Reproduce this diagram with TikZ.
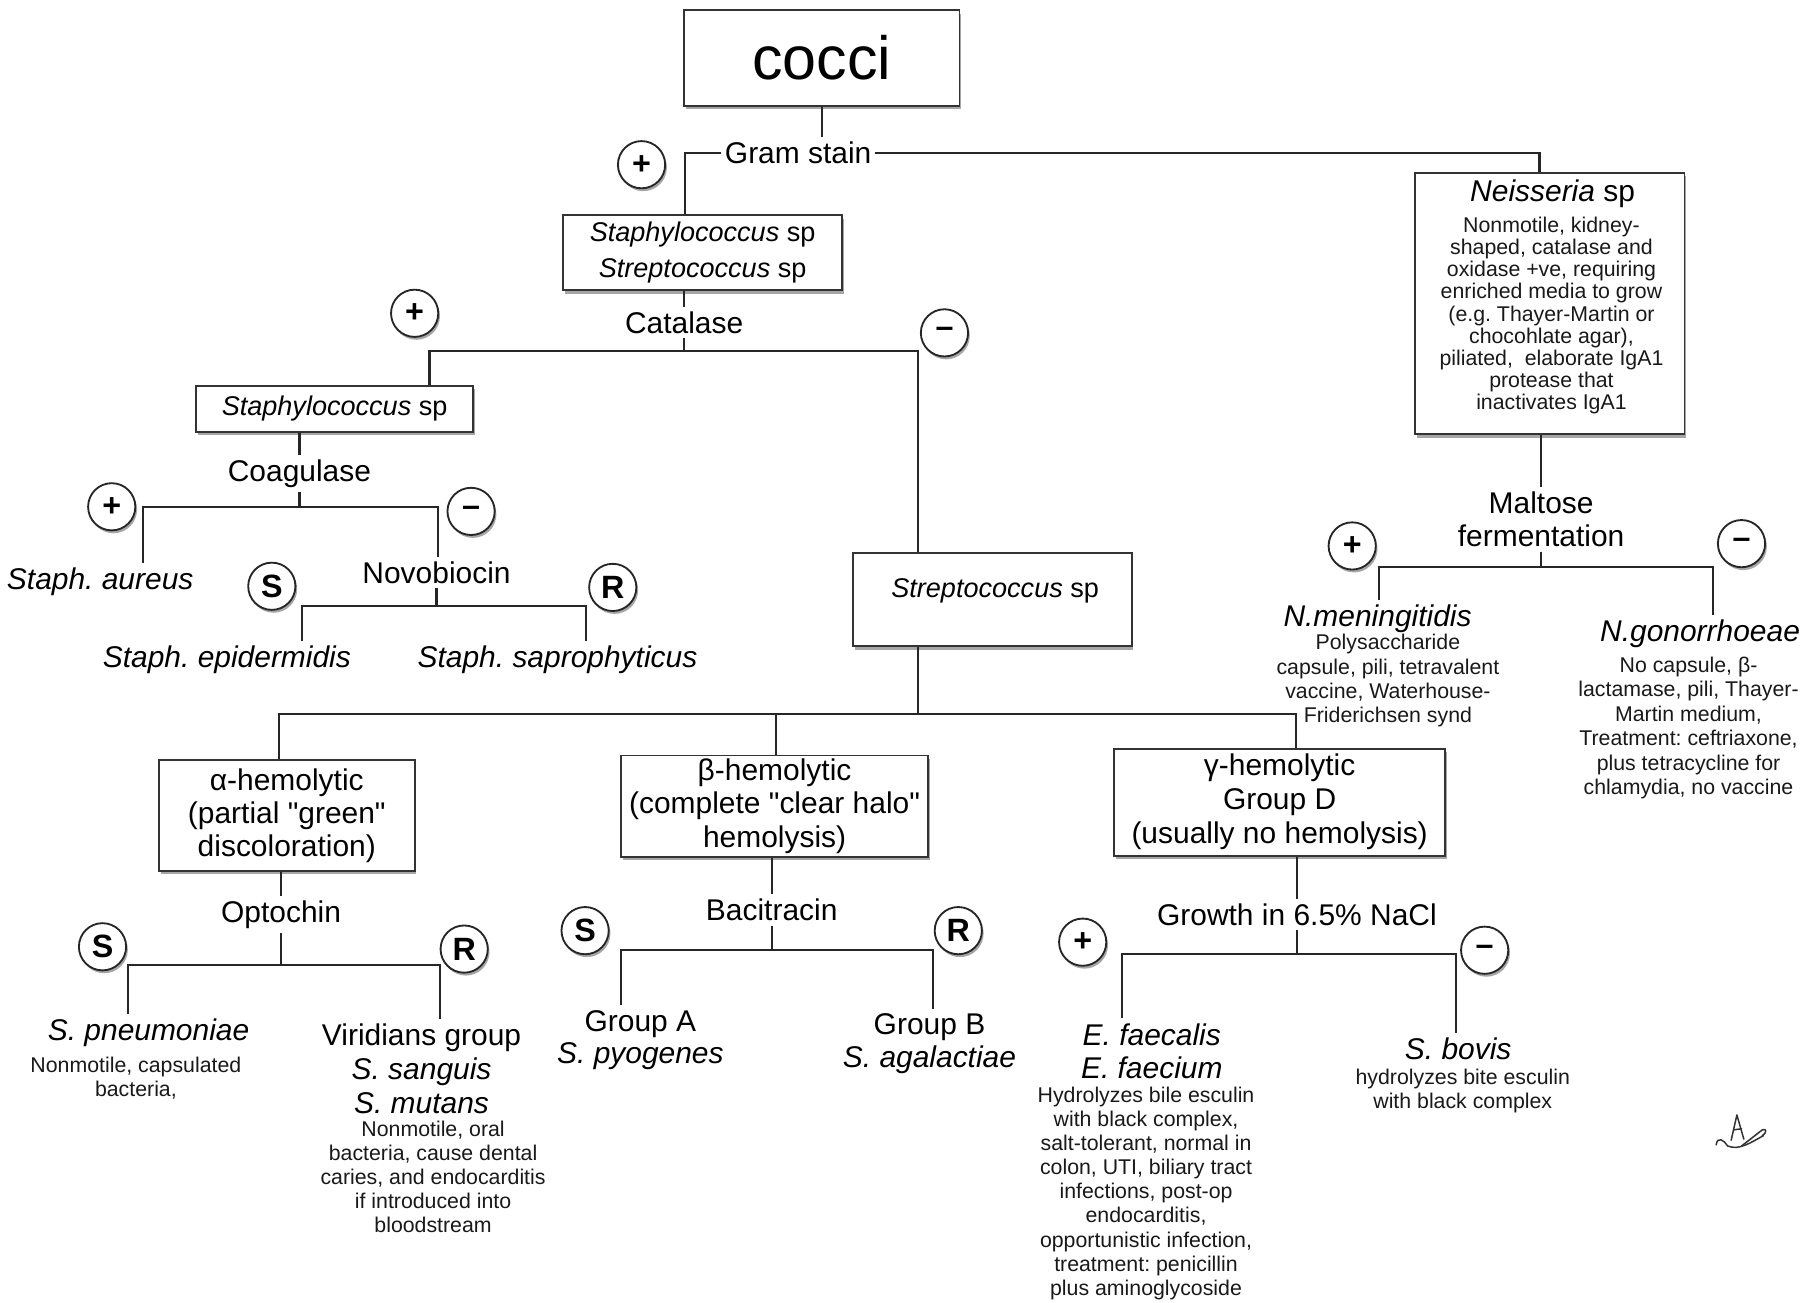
\documentclass[tikz,border=0pt]{standalone}
\usepackage{fontspec}
\setmainfont{Liberation Sans}
\usetikzlibrary{shadows}
\frenchspacing
\newcommand{\qq}{\textquotedbl}
\begin{document}
\begin{tikzpicture}[x=1pt,y=-1pt,
  conn/.style={line width=2pt, draw=black!85},
  box/.style={draw=black!80, line width=1.6pt, fill=white, inner sep=2pt, align=center,
    drop shadow={shadow xshift=1.5pt, shadow yshift=-3pt, opacity=0.35, fill=black}},
  lab/.style={font=\fontsize{26}{28.5}\selectfont, align=center, inner xsep=3pt, inner ysep=4pt, text=black},
  note/.style={font=\fontsize{18.5}{20.8}\selectfont, align=center, inner sep=1pt, text=black!90},
  sgn/.style={circle, draw=black!85, line width=1.6pt, fill=white, minimum size=41pt, inner sep=0pt,
    font=\fontsize{28}{28}\selectfont\bfseries,
    drop shadow={shadow xshift=1.5pt, shadow yshift=-2.5pt, opacity=0.35, fill=black}},
]
\useasboundingbox[fill=white] (0,0) rectangle (1568,1131);

% ---------- boxes ----------
\node[box, minimum width=239pt, minimum height=83pt, font=\fontsize{53}{60}\selectfont] (cocci) at (713.5,50.5) {cocci};
\node[box, minimum width=242pt, minimum height=65pt, font=\fontsize{23.5}{31}\selectfont] (ss) at (610,219.5)
  {\textit{Staphylococcus} sp\\\textit{Streptococcus} sp};
\node[box, minimum width=241pt, minimum height=40pt, font=\fontsize{23.5}{28}\selectfont] (staph) at (290.5,355)
  {\textit{Staphylococcus} sp};
\node[box, minimum width=242pt, minimum height=81pt] (strep) at (861.5,520.5) {};
\node[font=\fontsize{23.5}{28}\selectfont, inner sep=1pt] (streptxt) at (864,513) {\textit{Streptococcus} sp};
\node[box, minimum width=222pt, minimum height=96pt, font=\fontsize{26}{28.5}\selectfont] (alpha) at (249,708)
  {α-hemolytic\\(partial \qq green\qq\\discoloration)};
\node[box, minimum width=267pt, minimum height=88pt, font=\fontsize{26}{29}\selectfont] (beta) at (672.5,700)
  {β-hemolytic\\(complete \qq clear halo\qq\\hemolysis)};
\node[box, minimum width=287pt, minimum height=93pt, font=\fontsize{26}{29.5}\selectfont] (gamma) at (1111,696.5)
  {γ-hemolytic\\Group D\\(usually no hemolysis)};
\node[box, minimum width=234pt, minimum height=227pt] (neis) at (1345.5,263.5) {};
\node[font=\fontsize{26}{28}\selectfont, inner sep=1pt] (neistitle) at (1348,168) {\textit{Neisseria} sp};
\node[note, font=\fontsize{18.5}{19.2}\selectfont] (neisbody) at (1347,274)
  {Nonmotile, kidney-\\shaped, catalase and\\oxidase +ve, requiring\\enriched media to grow\\(e.g. Thayer-Martin or\\chocohlate agar),\\piliated,\ \ elaborate IgA1\\protease that\\inactivates IgA1};

% ---------- test labels ----------
\node[lab] (gram) at (693,133) {Gram stain};
\node[lab] (cat) at (594,280) {Catalase};
\node[lab] (coag) at (260,411) {Coagulase};
\node[lab] (novo) at (379,497) {Novobiocin};
\node[lab] (opt) at (244,794) {Optochin};
\node[lab] (bac) at (670,790) {Bacitracin};
\node[lab] (growth) at (1126,794) {Growth in 6.5\% NaCl};
\node[lab] (malt) at (1338,451) {Maltose\\fermentation};

% ---------- results ----------
\node[lab] (aureus) at (87,505) {\textit{Staph. aureus}};
\node[lab] (epi) at (197,573) {\textit{Staph. epidermidis}};
\node[lab] (sapro) at (484,573) {\textit{Staph. saprophyticus}};
\node[lab] (spn) at (129,897) {\textit{S. pneumoniae}};
\node[note] (spnbody) at (118,936) {Nonmotile, capsulated\\bacteria,};
\node[lab, font=\fontsize{26}{29.5}\selectfont] (vir) at (366,928) {Viridians group\\\textit{S. sanguis}\\\textit{S. mutans}};
\node[note] (virbody) at (376,1022) {Nonmotile, oral\\bacteria, cause dental\\caries, and endocarditis\\if introduced into\\bloodstream};
\node[lab] (grA) at (556,903) {Group A\\\textit{S. pyogenes}};
\node[lab] (grB) at (807,906) {Group B\\\textit{S. agalactiae}};
\node[lab, font=\fontsize{26}{29}\selectfont, inner ysep=0.5pt] (efae) at (1000,913) {\textit{E. faecalis}\\\textit{E. faecium}};
\node[note, font=\fontsize{18.5}{21}\selectfont, inner sep=0.5pt] (efaebody) at (995,1036)
  {Hydrolyzes bile esculin\\with black complex,\\salt-tolerant, normal in\\colon, UTI, biliary tract\\infections, post-op\\endocarditis,\\opportunistic infection,\\treatment: penicillin\\plus aminoglycoside};
\node[lab] (bovis) at (1266,911) {\textit{S. bovis}};
\node[note] (bovisbody) at (1270,947) {hydrolyzes bite esculin\\with black complex};
\node[lab] (nmen) at (1196,537) {\textit{N.meningitidis}};
\node[note, font=\fontsize{18.5}{21}\selectfont] (nmenbody) at (1205,591) {Polysaccharide\\capsule, pili, tetravalent\\vaccine, Waterhouse-\\Friderichsen synd};
\node[lab] (ngon) at (1476,550) {\textit{N.gonorrhoeae}};
\node[note, font=\fontsize{18.5}{21.2}\selectfont] (ngonbody) at (1466,632) {No capsule, β-\\lactamase, pili, Thayer-\\Martin medium,\\Treatment: ceftriaxone,\\plus tetracycline for\\chlamydia, no vaccine};

% ---------- junction coordinates ----------
\coordinate (catL) at (373,305);   \coordinate (catR) at (797,305);
\coordinate (coagL) at (124,440);  \coordinate (coagR) at (380,440);
\coordinate (novoL) at (262,526);  \coordinate (novoR) at (509,526);
\coordinate (hA) at (242,620);     \coordinate (hB) at (674,620);   \coordinate (hG) at (1125,620);
\coordinate (optL) at (111,838);   \coordinate (optR) at (382,838);
\coordinate (bacL) at (539,825);   \coordinate (bacR) at (810,825);
\coordinate (grL) at (974,828);    \coordinate (grR) at (1264,828);
\coordinate (mL) at (1197,492);    \coordinate (mR) at (1487,492);

% ---------- connectors ----------
\draw[conn] (cocci.south) -- (cocci.south |- gram.north);
\draw[conn] (gram.west) -| ([xshift=-15pt]ss.north);
\draw[conn] (gram.east) -| ([xshift=-9pt]neis.north);
\draw[conn] (ss.south -| cat.north) -- (cat.north);
\draw[conn] (cat.south) |- (catL) -- (catL |- staph.north);
\draw[conn] (cat.south) |- (catR) -- (catR |- strep.north);
\draw[conn] (staph.south -| coag.north) -- (coag.north);
\draw[conn] (coag.south) |- (coagL) -- (coagL |- aureus.north);
\draw[conn] (coag.south) |- (coagR) -- (coagR |- novo.north);
\draw[conn] (novo.south) |- (novoL) -- (novoL |- epi.north);
\draw[conn] (novo.south) |- (novoR) -- (novoR |- sapro.north);
\draw[conn] (catR |- strep.south) -- (catR |- hA);
\draw[conn] (hA |- alpha.north) -- (hA) -- (hG) -- (hG |- gamma.north);
\draw[conn] (hB) -- (hB |- beta.north);
\draw[conn] (alpha.south -| opt.north) -- (opt.north);
\draw[conn] (opt.south) |- (optL) -- (optL |- spn.north);
\draw[conn] (opt.south) |- (optR) -- (optR |- vir.north);
\draw[conn] (beta.south -| bac.north) -- (bac.north);
\draw[conn] (bac.south) |- (bacL) -- (bacL |- grA.north);
\draw[conn] (bac.south) |- (bacR) -- (bacR |- grB.north);
\draw[conn] (gamma.south -| growth.north) -- (growth.north);
\draw[conn] (growth.south) |- (grL) -- ([yshift=4pt]grL |- efae.north);
\draw[conn] (growth.south) |- (grR) -- (grR |- bovis.north);
\draw[conn] (neis.south -| malt.north) -- (malt.north);
\draw[conn] (malt.south) |- (mL) -- (mL |- nmen.north);
\draw[conn] (malt.south) |- (mR) -- (mR |- ngon.north);

% ---------- sign circles ----------
\node[sgn] (p1) at (557,143) {+};
\node[sgn] (p2) at (360,272) {+};
\node[sgn] (m2) at (820,289) {–};
\node[sgn] (p3) at (97,440) {+};
\node[sgn] (m3) at (409,444) {–};
\node[sgn] (s4) at (236,509) {S};
\node[sgn] (r4) at (532,510) {R};
\node[sgn] (p5) at (1174,474) {+};
\node[sgn] (m5) at (1512,472) {–};
\node[sgn] (s6) at (89,822) {S};
\node[sgn] (r6) at (403,824) {R};
\node[sgn] (s7) at (508,808) {S};
\node[sgn] (r7) at (832,808) {R};
\node[sgn] (p8) at (940,818) {+};
\node[sgn] (m8) at (1289,825) {–};

% ---------- signature doodle ----------
\begin{scope}[line width=1.3pt, draw=black!80, line cap=round, line join=round]
\draw (1503,990) -- (1508,968) -- (1514,989);
\draw (1505,981) -- (1512,980);
\draw (1490,994) .. controls (1491,986) and (1497,990) .. (1500,995) .. controls (1510,999) and (1520,992) .. (1531,986);
\draw (1512,995) -- (1530,981) .. controls (1534,979) and (1534,984) .. (1530,986);
\end{scope}
\end{tikzpicture}
\end{document}
